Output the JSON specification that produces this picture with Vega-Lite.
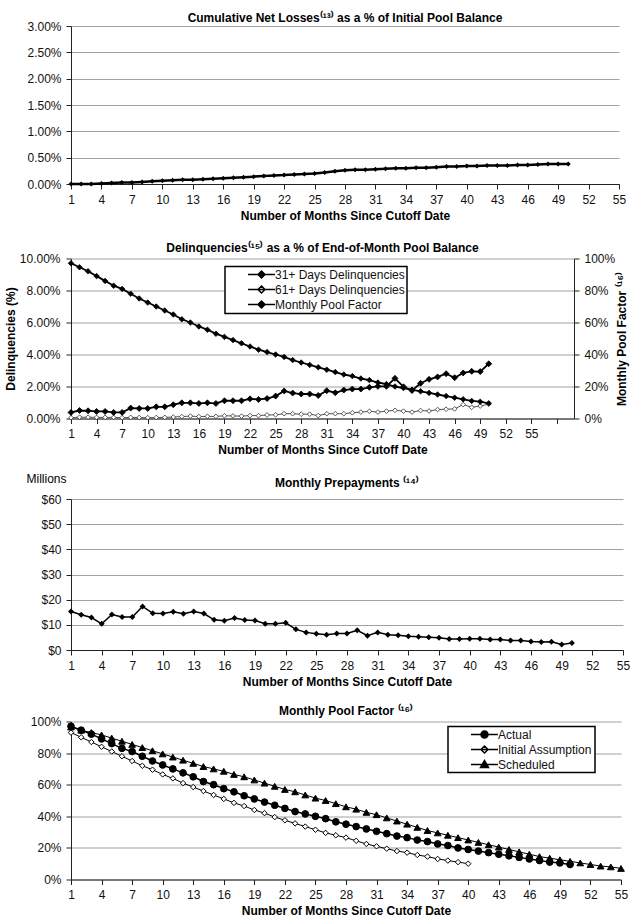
{
  "$schema": "https://vega.github.io/schema/vega-lite/v6.json",
  "padding": {"left": 4, "top": 12, "right": 0, "bottom": 0},
  "background": "white",
  "config": {
    "font": "Liberation Sans",
    "view": {"stroke": null},
    "axis": {"labelFont": "Liberation Sans", "labelFontSize": 12, "labelColor": "#111", "titleFont": "Liberation Sans", "titleFontSize": 12, "titleFontWeight": "bold", "titleColor": "#000", "domainColor": "#222", "tickColor": "#222", "tickSize": 5, "gridColor": "#a0a0a0", "labelPadding": 5, "labelFlush": false, "labelOverlap": false},
    "title": {"font": "Liberation Sans", "fontSize": 12, "fontWeight": "bold", "color": "#000", "frame": "group", "anchor": "middle"},
    "legend": {"labelFont": "Liberation Sans", "labelFontSize": 12, "labelColor": "#111"}
  },
  "datasets": {
    "losses": [
      {"month":1,"value":0},{"month":2,"value":0},{"month":3,"value":0},{"month":4,"value":0.01},{"month":5,"value":0.02},{"month":6,"value":0.03},{"month":7,"value":0.03},{"month":8,"value":0.04},{"month":9,"value":0.05},{"month":10,"value":0.06},
      {"month":11,"value":0.07},{"month":12,"value":0.08},{"month":13,"value":0.08},{"month":14,"value":0.09},{"month":15,"value":0.10},{"month":16,"value":0.11},{"month":17,"value":0.12},{"month":18,"value":0.13},{"month":19,"value":0.14},{"month":20,"value":0.15},
      {"month":21,"value":0.16},{"month":22,"value":0.17},{"month":23,"value":0.18},{"month":24,"value":0.19},{"month":25,"value":0.20},{"month":26,"value":0.22},{"month":27,"value":0.24},{"month":28,"value":0.26},{"month":29,"value":0.27},{"month":30,"value":0.27},
      {"month":31,"value":0.28},{"month":32,"value":0.29},{"month":33,"value":0.30},{"month":34,"value":0.30},{"month":35,"value":0.31},{"month":36,"value":0.31},{"month":37,"value":0.32},{"month":38,"value":0.33},{"month":39,"value":0.33},{"month":40,"value":0.34},
      {"month":41,"value":0.34},{"month":42,"value":0.35},{"month":43,"value":0.35},{"month":44,"value":0.35},{"month":45,"value":0.36},{"month":46,"value":0.36},{"month":47,"value":0.37},{"month":48,"value":0.38},{"month":49,"value":0.38},{"month":50,"value":0.38}
    ],
    "delinq": [
      {"month":1,"series":"31+ Days Delinquencies","value":0.38},{"month":2,"series":"31+ Days Delinquencies","value":0.50},{"month":3,"series":"31+ Days Delinquencies","value":0.48},{"month":4,"series":"31+ Days Delinquencies","value":0.44},{"month":5,"series":"31+ Days Delinquencies","value":0.44},
      {"month":6,"series":"31+ Days Delinquencies","value":0.38},{"month":7,"series":"31+ Days Delinquencies","value":0.38},{"month":8,"series":"31+ Days Delinquencies","value":0.65},{"month":9,"series":"31+ Days Delinquencies","value":0.63},{"month":10,"series":"31+ Days Delinquencies","value":0.63},
      {"month":11,"series":"31+ Days Delinquencies","value":0.73},{"month":12,"series":"31+ Days Delinquencies","value":0.73},{"month":13,"series":"31+ Days Delinquencies","value":0.86},{"month":14,"series":"31+ Days Delinquencies","value":0.98},{"month":15,"series":"31+ Days Delinquencies","value":0.98},
      {"month":16,"series":"31+ Days Delinquencies","value":0.94},{"month":17,"series":"31+ Days Delinquencies","value":0.98},{"month":18,"series":"31+ Days Delinquencies","value":0.94},{"month":19,"series":"31+ Days Delinquencies","value":1.11},{"month":20,"series":"31+ Days Delinquencies","value":1.11},
      {"month":21,"series":"31+ Days Delinquencies","value":1.11},{"month":22,"series":"31+ Days Delinquencies","value":1.23},{"month":23,"series":"31+ Days Delinquencies","value":1.19},{"month":24,"series":"31+ Days Delinquencies","value":1.25},{"month":25,"series":"31+ Days Delinquencies","value":1.40},
      {"month":26,"series":"31+ Days Delinquencies","value":1.72},{"month":27,"series":"31+ Days Delinquencies","value":1.59},{"month":28,"series":"31+ Days Delinquencies","value":1.53},{"month":29,"series":"31+ Days Delinquencies","value":1.53},{"month":30,"series":"31+ Days Delinquencies","value":1.44},
      {"month":31,"series":"31+ Days Delinquencies","value":1.74},{"month":32,"series":"31+ Days Delinquencies","value":1.61},{"month":33,"series":"31+ Days Delinquencies","value":1.78},{"month":34,"series":"31+ Days Delinquencies","value":1.84},{"month":35,"series":"31+ Days Delinquencies","value":1.84},
      {"month":36,"series":"31+ Days Delinquencies","value":1.95},{"month":37,"series":"31+ Days Delinquencies","value":2.01},{"month":38,"series":"31+ Days Delinquencies","value":2.01},{"month":39,"series":"31+ Days Delinquencies","value":2.51},{"month":40,"series":"31+ Days Delinquencies","value":1.98},
      {"month":41,"series":"31+ Days Delinquencies","value":1.75},{"month":42,"series":"31+ Days Delinquencies","value":2.20},{"month":43,"series":"31+ Days Delinquencies","value":2.45},{"month":44,"series":"31+ Days Delinquencies","value":2.60},{"month":45,"series":"31+ Days Delinquencies","value":2.80},
      {"month":46,"series":"31+ Days Delinquencies","value":2.55},{"month":47,"series":"31+ Days Delinquencies","value":2.85},{"month":48,"series":"31+ Days Delinquencies","value":2.95},{"month":49,"series":"31+ Days Delinquencies","value":2.93},{"month":50,"series":"31+ Days Delinquencies","value":3.42},
      {"month":1,"series":"61+ Days Delinquencies","value":0.05},{"month":2,"series":"61+ Days Delinquencies","value":0.08},{"month":3,"series":"61+ Days Delinquencies","value":0.08},{"month":4,"series":"61+ Days Delinquencies","value":0.07},{"month":5,"series":"61+ Days Delinquencies","value":0.07},
      {"month":6,"series":"61+ Days Delinquencies","value":0.07},{"month":7,"series":"61+ Days Delinquencies","value":0.05},{"month":8,"series":"61+ Days Delinquencies","value":0.07},{"month":9,"series":"61+ Days Delinquencies","value":0.06},{"month":10,"series":"61+ Days Delinquencies","value":0.05},
      {"month":11,"series":"61+ Days Delinquencies","value":0.06},{"month":12,"series":"61+ Days Delinquencies","value":0.07},{"month":13,"series":"61+ Days Delinquencies","value":0.09},{"month":14,"series":"61+ Days Delinquencies","value":0.12},{"month":15,"series":"61+ Days Delinquencies","value":0.15},
      {"month":16,"series":"61+ Days Delinquencies","value":0.12},{"month":17,"series":"61+ Days Delinquencies","value":0.13},{"month":18,"series":"61+ Days Delinquencies","value":0.13},{"month":19,"series":"61+ Days Delinquencies","value":0.17},{"month":20,"series":"61+ Days Delinquencies","value":0.16},
      {"month":21,"series":"61+ Days Delinquencies","value":0.15},{"month":22,"series":"61+ Days Delinquencies","value":0.18},{"month":23,"series":"61+ Days Delinquencies","value":0.18},{"month":24,"series":"61+ Days Delinquencies","value":0.22},{"month":25,"series":"61+ Days Delinquencies","value":0.23},
      {"month":26,"series":"61+ Days Delinquencies","value":0.30},{"month":27,"series":"61+ Days Delinquencies","value":0.30},{"month":28,"series":"61+ Days Delinquencies","value":0.27},{"month":29,"series":"61+ Days Delinquencies","value":0.27},{"month":30,"series":"61+ Days Delinquencies","value":0.18},
      {"month":31,"series":"61+ Days Delinquencies","value":0.30},{"month":32,"series":"61+ Days Delinquencies","value":0.30},{"month":33,"series":"61+ Days Delinquencies","value":0.30},{"month":34,"series":"61+ Days Delinquencies","value":0.36},{"month":35,"series":"61+ Days Delinquencies","value":0.40},
      {"month":36,"series":"61+ Days Delinquencies","value":0.45},{"month":37,"series":"61+ Days Delinquencies","value":0.40},{"month":38,"series":"61+ Days Delinquencies","value":0.46},{"month":39,"series":"61+ Days Delinquencies","value":0.51},{"month":40,"series":"61+ Days Delinquencies","value":0.46},
      {"month":41,"series":"61+ Days Delinquencies","value":0.40},{"month":42,"series":"61+ Days Delinquencies","value":0.50},{"month":43,"series":"61+ Days Delinquencies","value":0.47},{"month":44,"series":"61+ Days Delinquencies","value":0.56},{"month":45,"series":"61+ Days Delinquencies","value":0.58},
      {"month":46,"series":"61+ Days Delinquencies","value":0.60},{"month":47,"series":"61+ Days Delinquencies","value":0.87},{"month":48,"series":"61+ Days Delinquencies","value":0.70},{"month":49,"series":"61+ Days Delinquencies","value":0.78},{"month":50,"series":"61+ Days Delinquencies","value":0.90},
      {"month":1,"series":"Monthly Pool Factor","value":97},{"month":2,"series":"Monthly Pool Factor","value":94.5},{"month":3,"series":"Monthly Pool Factor","value":92},{"month":4,"series":"Monthly Pool Factor","value":89},{"month":5,"series":"Monthly Pool Factor","value":86},
      {"month":6,"series":"Monthly Pool Factor","value":83},{"month":7,"series":"Monthly Pool Factor","value":81},{"month":8,"series":"Monthly Pool Factor","value":78},{"month":9,"series":"Monthly Pool Factor","value":75},{"month":10,"series":"Monthly Pool Factor","value":72.5},
      {"month":11,"series":"Monthly Pool Factor","value":70},{"month":12,"series":"Monthly Pool Factor","value":67.5},{"month":13,"series":"Monthly Pool Factor","value":65},{"month":14,"series":"Monthly Pool Factor","value":62},{"month":15,"series":"Monthly Pool Factor","value":60},
      {"month":16,"series":"Monthly Pool Factor","value":57.5},{"month":17,"series":"Monthly Pool Factor","value":55.5},{"month":18,"series":"Monthly Pool Factor","value":53},{"month":19,"series":"Monthly Pool Factor","value":51},{"month":20,"series":"Monthly Pool Factor","value":49},
      {"month":21,"series":"Monthly Pool Factor","value":47},{"month":22,"series":"Monthly Pool Factor","value":45},{"month":23,"series":"Monthly Pool Factor","value":43},{"month":24,"series":"Monthly Pool Factor","value":41.5},{"month":25,"series":"Monthly Pool Factor","value":40},
      {"month":26,"series":"Monthly Pool Factor","value":38.5},{"month":27,"series":"Monthly Pool Factor","value":36.5},{"month":28,"series":"Monthly Pool Factor","value":35},{"month":29,"series":"Monthly Pool Factor","value":33.5},{"month":30,"series":"Monthly Pool Factor","value":32},
      {"month":31,"series":"Monthly Pool Factor","value":30.5},{"month":32,"series":"Monthly Pool Factor","value":29},{"month":33,"series":"Monthly Pool Factor","value":27.5},{"month":34,"series":"Monthly Pool Factor","value":26.5},{"month":35,"series":"Monthly Pool Factor","value":25},
      {"month":36,"series":"Monthly Pool Factor","value":24},{"month":37,"series":"Monthly Pool Factor","value":22.5},{"month":38,"series":"Monthly Pool Factor","value":21.5},{"month":39,"series":"Monthly Pool Factor","value":20},{"month":40,"series":"Monthly Pool Factor","value":19},
      {"month":41,"series":"Monthly Pool Factor","value":18},{"month":42,"series":"Monthly Pool Factor","value":17},{"month":43,"series":"Monthly Pool Factor","value":16},{"month":44,"series":"Monthly Pool Factor","value":15},{"month":45,"series":"Monthly Pool Factor","value":14},
      {"month":46,"series":"Monthly Pool Factor","value":13},{"month":47,"series":"Monthly Pool Factor","value":12},{"month":48,"series":"Monthly Pool Factor","value":11},{"month":49,"series":"Monthly Pool Factor","value":10.5},{"month":50,"series":"Monthly Pool Factor","value":9.5}
    ],
    "prepay": [
      {"month":1,"value":15.3},{"month":2,"value":14.0},{"month":3,"value":12.9},{"month":4,"value":10.4},{"month":5,"value":14.1},{"month":6,"value":13.1},{"month":7,"value":13.1},{"month":8,"value":17.3},{"month":9,"value":14.6},{"month":10,"value":14.5},
      {"month":11,"value":15.2},{"month":12,"value":14.4},{"month":13,"value":15.3},{"month":14,"value":14.5},{"month":15,"value":12.0},{"month":16,"value":11.6},{"month":17,"value":12.7},{"month":18,"value":11.9},{"month":19,"value":11.7},{"month":20,"value":10.4},
      {"month":21,"value":10.4},{"month":22,"value":10.8},{"month":23,"value":8.2},{"month":24,"value":7.0},{"month":25,"value":6.5},{"month":26,"value":6.1},{"month":27,"value":6.6},{"month":28,"value":6.6},{"month":29,"value":7.8},{"month":30,"value":5.7},
      {"month":31,"value":7.0},{"month":32,"value":6.1},{"month":33,"value":5.9},{"month":34,"value":5.5},{"month":35,"value":5.3},{"month":36,"value":5.1},{"month":37,"value":4.9},{"month":38,"value":4.4},{"month":39,"value":4.4},{"month":40,"value":4.5},
      {"month":41,"value":4.5},{"month":42,"value":4.2},{"month":43,"value":4.2},{"month":44,"value":3.8},{"month":45,"value":3.8},{"month":46,"value":3.4},{"month":47,"value":3.2},{"month":48,"value":3.3},{"month":49,"value":2.2},{"month":50,"value":2.8}
    ],
    "pool": [
      {"month":1,"series":"Actual","value":97},{"month":2,"series":"Actual","value":94.5},{"month":3,"series":"Actual","value":92},{"month":4,"series":"Actual","value":89},{"month":5,"series":"Actual","value":86},
      {"month":6,"series":"Actual","value":83},{"month":7,"series":"Actual","value":81},{"month":8,"series":"Actual","value":78},{"month":9,"series":"Actual","value":75},{"month":10,"series":"Actual","value":72.5},
      {"month":11,"series":"Actual","value":70},{"month":12,"series":"Actual","value":67.5},{"month":13,"series":"Actual","value":65},{"month":14,"series":"Actual","value":62},{"month":15,"series":"Actual","value":60},
      {"month":16,"series":"Actual","value":57.5},{"month":17,"series":"Actual","value":55.5},{"month":18,"series":"Actual","value":53},{"month":19,"series":"Actual","value":51},{"month":20,"series":"Actual","value":49},
      {"month":21,"series":"Actual","value":47},{"month":22,"series":"Actual","value":45},{"month":23,"series":"Actual","value":43},{"month":24,"series":"Actual","value":41.5},{"month":25,"series":"Actual","value":40},
      {"month":26,"series":"Actual","value":38.5},{"month":27,"series":"Actual","value":36.5},{"month":28,"series":"Actual","value":35},{"month":29,"series":"Actual","value":33.5},{"month":30,"series":"Actual","value":32},
      {"month":31,"series":"Actual","value":30.5},{"month":32,"series":"Actual","value":29},{"month":33,"series":"Actual","value":27.5},{"month":34,"series":"Actual","value":26.5},{"month":35,"series":"Actual","value":25},
      {"month":36,"series":"Actual","value":24},{"month":37,"series":"Actual","value":22.5},{"month":38,"series":"Actual","value":21.5},{"month":39,"series":"Actual","value":20},{"month":40,"series":"Actual","value":19},
      {"month":41,"series":"Actual","value":18},{"month":42,"series":"Actual","value":17},{"month":43,"series":"Actual","value":16},{"month":44,"series":"Actual","value":15},{"month":45,"series":"Actual","value":14},
      {"month":46,"series":"Actual","value":13},{"month":47,"series":"Actual","value":12},{"month":48,"series":"Actual","value":11},{"month":49,"series":"Actual","value":10.5},{"month":50,"series":"Actual","value":9.5},
      {"month":1,"series":"Initial Assumption","value":93},{"month":2,"series":"Initial Assumption","value":90},{"month":3,"series":"Initial Assumption","value":87},{"month":4,"series":"Initial Assumption","value":84},{"month":5,"series":"Initial Assumption","value":81},
      {"month":6,"series":"Initial Assumption","value":78},{"month":7,"series":"Initial Assumption","value":75},{"month":8,"series":"Initial Assumption","value":72},{"month":9,"series":"Initial Assumption","value":69.5},{"month":10,"series":"Initial Assumption","value":66.5},
      {"month":11,"series":"Initial Assumption","value":64},{"month":12,"series":"Initial Assumption","value":61},{"month":13,"series":"Initial Assumption","value":58.5},{"month":14,"series":"Initial Assumption","value":56},{"month":15,"series":"Initial Assumption","value":53.5},
      {"month":16,"series":"Initial Assumption","value":51},{"month":17,"series":"Initial Assumption","value":48.5},{"month":18,"series":"Initial Assumption","value":46.5},{"month":19,"series":"Initial Assumption","value":44},{"month":20,"series":"Initial Assumption","value":42},
      {"month":21,"series":"Initial Assumption","value":39.5},{"month":22,"series":"Initial Assumption","value":37.5},{"month":23,"series":"Initial Assumption","value":35.5},{"month":24,"series":"Initial Assumption","value":33.5},{"month":25,"series":"Initial Assumption","value":31.5},
      {"month":26,"series":"Initial Assumption","value":29.5},{"month":27,"series":"Initial Assumption","value":28},{"month":28,"series":"Initial Assumption","value":26.5},{"month":29,"series":"Initial Assumption","value":24.5},{"month":30,"series":"Initial Assumption","value":22.5},
      {"month":31,"series":"Initial Assumption","value":21},{"month":32,"series":"Initial Assumption","value":19.5},{"month":33,"series":"Initial Assumption","value":18},{"month":34,"series":"Initial Assumption","value":17},{"month":35,"series":"Initial Assumption","value":15.5},
      {"month":36,"series":"Initial Assumption","value":14.5},{"month":37,"series":"Initial Assumption","value":13},{"month":38,"series":"Initial Assumption","value":12},{"month":39,"series":"Initial Assumption","value":11},{"month":40,"series":"Initial Assumption","value":10},
      {"month":1,"series":"Scheduled","value":96.5},{"month":2,"series":"Scheduled","value":94.5},{"month":3,"series":"Scheduled","value":93},{"month":4,"series":"Scheduled","value":91.5},{"month":5,"series":"Scheduled","value":89.5},
      {"month":6,"series":"Scheduled","value":87.5},{"month":7,"series":"Scheduled","value":85.5},{"month":8,"series":"Scheduled","value":83.5},{"month":9,"series":"Scheduled","value":81.5},{"month":10,"series":"Scheduled","value":79.5},
      {"month":11,"series":"Scheduled","value":77.5},{"month":12,"series":"Scheduled","value":75.5},{"month":13,"series":"Scheduled","value":73.5},{"month":14,"series":"Scheduled","value":71.5},{"month":15,"series":"Scheduled","value":70},
      {"month":16,"series":"Scheduled","value":68.5},{"month":17,"series":"Scheduled","value":66.5},{"month":18,"series":"Scheduled","value":65},{"month":19,"series":"Scheduled","value":63},{"month":20,"series":"Scheduled","value":61},
      {"month":21,"series":"Scheduled","value":59},{"month":22,"series":"Scheduled","value":57},{"month":23,"series":"Scheduled","value":55.5},{"month":24,"series":"Scheduled","value":53.5},{"month":25,"series":"Scheduled","value":51.5},
      {"month":26,"series":"Scheduled","value":50},{"month":27,"series":"Scheduled","value":48},{"month":28,"series":"Scheduled","value":46},{"month":29,"series":"Scheduled","value":44.5},{"month":30,"series":"Scheduled","value":42.5},
      {"month":31,"series":"Scheduled","value":41},{"month":32,"series":"Scheduled","value":39},{"month":33,"series":"Scheduled","value":37},{"month":34,"series":"Scheduled","value":35},{"month":35,"series":"Scheduled","value":33},
      {"month":36,"series":"Scheduled","value":31},{"month":37,"series":"Scheduled","value":29.5},{"month":38,"series":"Scheduled","value":28},{"month":39,"series":"Scheduled","value":26.5},{"month":40,"series":"Scheduled","value":25},
      {"month":41,"series":"Scheduled","value":23.5},{"month":42,"series":"Scheduled","value":22},{"month":43,"series":"Scheduled","value":20.5},{"month":44,"series":"Scheduled","value":19},{"month":45,"series":"Scheduled","value":17.5},
      {"month":46,"series":"Scheduled","value":16},{"month":47,"series":"Scheduled","value":14.5},{"month":48,"series":"Scheduled","value":13.5},{"month":49,"series":"Scheduled","value":12.5},{"month":50,"series":"Scheduled","value":11.5},
      {"month":51,"series":"Scheduled","value":10.5},{"month":52,"series":"Scheduled","value":9.5},{"month":53,"series":"Scheduled","value":8.5},{"month":54,"series":"Scheduled","value":8},{"month":55,"series":"Scheduled","value":7}
    ]
  },
  "concat": [
    {
      "concat": [
        {
          "width": 548, "height": 158,
          "title": {"text": "Cumulative Net Losses⁽¹³⁾ as a % of Initial Pool Balance", "offset": -5},
          "data": {"name": "losses"},
          "mark": {"type": "line", "color": "black", "strokeWidth": 2.5, "point": {"shape": "diamond", "size": 25, "filled": true, "color": "black"}},
          "encoding": {
            "x": {"field": "month", "type": "quantitative", "scale": {"domain": [1, 55], "nice": false, "zero": false}, "axis": {"values": [1,4,7,10,13,16,19,22,25,28,31,34,37,40,43,46,49,52,55], "grid": false, "title": "Number of Months Since Cutoff Date", "titlePadding": 5, "labelOverlap": false}},
            "y": {"field": "value", "type": "quantitative", "scale": {"domain": [0, 3], "nice": false}, "axis": {"values": [0,0.5,1,1.5,2,2.5,3], "labelExpr": "format(datum.value,'.2f')+'%'", "title": null, "grid": true, "labelPadding": 5}}
          }
        },
        {
          "width": 503, "height": 160,
          "title": {"text": "Delinquencies⁽¹⁵⁾ as a % of End-of-Month Pool Balance", "offset": -2.5},
          "data": {"name": "delinq"},
          "layer": [
            {
              "encoding": {
                "x": {"field": "month", "type": "quantitative", "scale": {"domain": [1, 60], "nice": false, "zero": false}, "axis": {"values": [1,4,7,10,13,16,19,22,25,28,31,34,37,40,43,46,49,52,55,58], "labelExpr": "datum.value > 55 ? '' : datum.label", "grid": false, "title": "Number of Months Since Cutoff Date", "titlePadding": 5, "labelOverlap": false}},
                "y": {"field": "value", "type": "quantitative", "scale": {"domain": [0, 10], "nice": false}, "axis": {"values": [0,2,4,6,8,10], "labelExpr": "format(datum.value,'.2f')+'%'", "title": "Delinquencies (%)", "grid": true, "labelPadding": 6, "titlePadding": 2}}
              },
              "layer": [
                {"transform": [{"filter": "datum.series === '61+ Days Delinquencies'"}], "mark": {"type": "line", "color": "#555", "strokeWidth": 1}},
                {"transform": [{"filter": "datum.series === '31+ Days Delinquencies'"}], "mark": {"type": "line", "color": "black", "strokeWidth": 1.8}},
                {"transform": [{"filter": "datum.series === '61+ Days Delinquencies'"}], "mark": {"type": "point", "shape": "diamond", "filled": true, "stroke": "#333", "strokeWidth": 0.8, "size": 22, "opacity": 1},
                 "encoding": {"fill": {"field": "series", "type": "nominal", "scale": {"domain": ["31+ Days Delinquencies", "61+ Days Delinquencies", "Monthly Pool Factor"], "range": ["black", "white", "black"]},
                   "legend": {"title": null, "orient": "none", "legendX": 154, "legendY": 240.5, "direction": "vertical", "fillColor": "white", "strokeColor": "black", "padding": 2, "symbolSize": 64, "symbolOffset": 28.5, "labelOffset": 7.5, "rowPadding": 1, "labelExpr": "datum.label + '\u00a0\u00a0\u00a0\u00a0\u00a0\u00a0'",
                     "encoding": {"symbols": {"shape": {"value": "M-8.125,0M-3.375,0H3.375M0,-0.875L0.875,0L0,0.875L-0.875,0Z"}, "stroke": {"value": "black"}, "strokeWidth": {"value": 1.5}, "opacity": {"value": 1}}, "legend": {"strokeWidth": {"value": 1.5}}}}}}},
                {"transform": [{"filter": "datum.series === '31+ Days Delinquencies'"}], "mark": {"type": "point", "shape": "diamond", "filled": true, "stroke": "black", "strokeWidth": 0.8, "size": 36, "opacity": 1},
                 "encoding": {"fill": {"field": "series", "type": "nominal"}}}
              ]
            },
            {
              "transform": [{"filter": "datum.series === 'Monthly Pool Factor'"}],
              "encoding": {
                "x": {"field": "month", "type": "quantitative", "scale": {"domain": [1, 60], "nice": false, "zero": false}, "axis": {"values": [1,4,7,10,13,16,19,22,25,28,31,34,37,40,43,46,49,52,55,58], "labelExpr": "datum.value > 55 ? '' : datum.label", "grid": false, "title": "Number of Months Since Cutoff Date", "titlePadding": 5, "labelOverlap": false}},
                "y": {"field": "value", "type": "quantitative", "scale": {"domain": [0, 100], "nice": false}, "axis": {"orient": "right", "values": [0,20,40,60,80,100], "labelExpr": "datum.value+'%'", "title": "Monthly Pool Factor ⁽¹⁶⁾", "titleAngle": 270, "titleBaseline": "top", "grid": false, "labelPadding": 5, "titlePadding": 2}}
              },
              "layer": [
                {"mark": {"type": "line", "color": "black", "strokeWidth": 1.8}},
                {"mark": {"type": "point", "shape": "diamond", "filled": true, "stroke": "black", "strokeWidth": 0.8, "size": 30, "opacity": 1},
                 "encoding": {"fill": {"field": "series", "type": "nominal"}}}
              ]
            }
          ],
          "resolve": {"scale": {"y": "independent"}}
        }
      ],
      "columns": 1, "align": "none", "spacing": 20.5
    },
    {
      "concat": [
        {
          "width": 552, "height": 151,
          "title": {"text": "Monthly Prepayments ⁽¹⁴⁾", "offset": -18},
          "data": {"name": "prepay"},
          "mark": {"type": "line", "color": "black", "strokeWidth": 1.5, "point": {"shape": "diamond", "size": 36, "filled": true, "color": "black"}},
          "encoding": {
            "x": {"field": "month", "type": "quantitative", "scale": {"domain": [1, 55], "nice": false, "zero": false}, "axis": {"values": [1,4,7,10,13,16,19,22,25,28,31,34,37,40,43,46,49,52,55], "grid": false, "title": "Number of Months Since Cutoff Date", "titlePadding": 5, "labelOverlap": false}},
            "y": {"field": "value", "type": "quantitative", "scale": {"domain": [0, 60], "nice": false}, "axis": {"values": [0,10,20,30,40,50,60], "labelExpr": "'$'+datum.value", "title": "Millions", "titleAngle": 0, "titleX": -45, "titleY": -20.7, "titleAlign": "left", "titleBaseline": "middle", "titleFontWeight": "normal", "grid": true, "labelPadding": 5}}
          }
        },
        {
          "width": 550, "height": 158,
          "title": {"text": "Monthly Pool Factor ⁽¹⁶⁾", "offset": -2.4},
          "data": {"name": "pool"},
          "encoding": {
            "x": {"field": "month", "type": "quantitative", "scale": {"domain": [1, 55], "nice": false, "zero": false}, "axis": {"values": [1,4,7,10,13,16,19,22,25,28,31,34,37,40,43,46,49,52,55], "grid": false, "title": "Number of Months Since Cutoff Date", "titlePadding": 5, "labelOverlap": false}},
            "y": {"field": "value", "type": "quantitative", "scale": {"domain": [0, 100], "nice": false}, "axis": {"values": [0,20,40,60,80,100], "labelExpr": "datum.value+'%'", "title": null, "grid": true, "labelPadding": 5}}
          },
          "layer": [
            {"transform": [{"filter": "datum.series === 'Scheduled'"}], "mark": {"type": "line", "color": "black", "strokeWidth": 1}},
            {"transform": [{"filter": "datum.series === 'Initial Assumption'"}], "mark": {"type": "line", "color": "black", "strokeWidth": 1}},
            {"transform": [{"filter": "datum.series === 'Actual'"}], "mark": {"type": "line", "color": "black", "strokeWidth": 1.5}},
            {"transform": [{"filter": "datum.series === 'Actual'"}], "mark": {"type": "point", "shape": "circle", "filled": true, "fill": "black", "size": 45, "strokeWidth": 1, "opacity": 1},
             "encoding": {"stroke": {"field": "series", "type": "nominal", "scale": {"domain": ["Actual", "Initial Assumption", "Scheduled"], "range": ["black", "black", "black"]},
               "legend": {"title": null, "orient": "none", "legendX": 377, "legendY": 700.5, "direction": "vertical", "fillColor": "white", "strokeColor": "black", "padding": 2, "symbolSize": 64, "symbolOffset": 28.5, "labelOffset": 7.5, "rowPadding": 1, "labelExpr": "datum.label + '\u00a0\u00a0\u00a0\u00a0\u00a0'",
                 "encoding": {"symbols": {"shape": {"value": {"expr": "datum.value === 'Actual' ? 'M-8.125,0M-3.375,0H3.375M0.875,0A0.875,0.875,0,1,1,-0.875,0A0.875,0.875,0,1,1,0.875,0Z' : datum.value === 'Scheduled' ? 'M-8.125,0M-3.375,0H3.375M0,-1L1,0.75L-1,0.75Z' : 'M-8.125,0M-3.375,0H3.375M0,-0.875L0.875,0L0,0.875L-0.875,0Z'"}}, "fill": {"value": {"expr": "datum.value === 'Initial Assumption' ? 'white' : 'black'"}}, "stroke": {"value": "black"}, "strokeWidth": {"value": 1.5}, "opacity": {"value": 1}}, "legend": {"strokeWidth": {"value": 1.5}}}}}}},
            {"transform": [{"filter": "datum.series === 'Initial Assumption'"}], "mark": {"type": "point", "shape": "diamond", "filled": true, "fill": "white", "size": 30, "strokeWidth": 1, "opacity": 1},
             "encoding": {"stroke": {"field": "series", "type": "nominal"}}},
            {"transform": [{"filter": "datum.series === 'Scheduled'"}], "mark": {"type": "point", "shape": "triangle-up", "filled": true, "fill": "black", "size": 45, "strokeWidth": 1, "opacity": 1},
             "encoding": {"stroke": {"field": "series", "type": "nominal"}}}
          ]
        }
      ],
      "columns": 1, "align": "none", "spacing": 17.5
    }
  ],
  "columns": 1, "align": "none", "spacing": 16
}
